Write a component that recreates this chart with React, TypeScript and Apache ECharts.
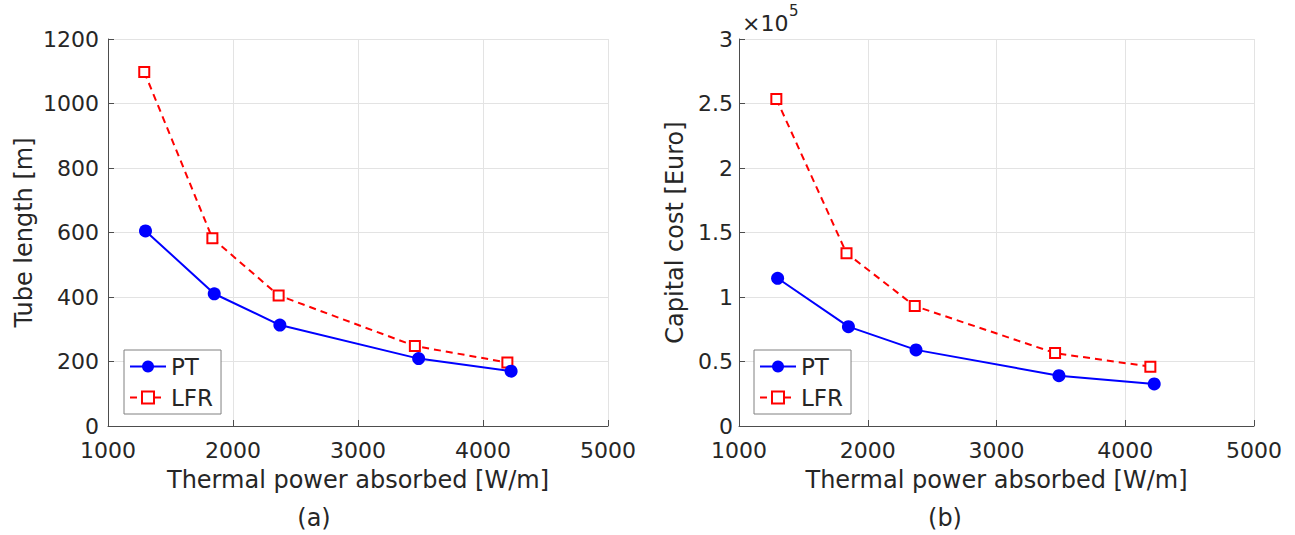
import React, { useEffect, useRef } from "react";
import * as echarts from "echarts";

const xTicks = [1000, 2000, 3000, 4000, 5000];
const ptX = [1300, 1850, 2375, 3485, 4225];
const lfrX = [1290, 1835, 2365, 3455, 4195];
const ptLength = [605, 410, 313, 209, 170];
const lfrLength = [1098, 582, 405, 248, 197];
const ptCost = [114500, 77000, 59000, 39000, 32600];
const lfrCost = [253500, 134000, 93000, 56500, 46000];

const FONT = "DejaVu Sans";
const TXT = "#262626";

function pairs(xs: number[], ys: number[]) {
  return xs.map((x, i) => [x, ys[i]]);
}

export default function App() {
  const ref = useRef<HTMLDivElement>(null);
  useEffect(() => {
    if (!ref.current) return;
    const chart = echarts.init(ref.current, undefined, { renderer: "svg" });
    const xAxisBase = (gridIndex: number) => ({
      type: "value" as const,
      gridIndex,
      min: xTicks[0],
      max: xTicks[xTicks.length - 1],
      interval: 1000,
      name: "Thermal power absorbed [W/m]",
      nameLocation: "middle" as const,
      nameGap: 42,
      nameTextStyle: { fontFamily: FONT, fontSize: 24, color: TXT },
      axisLine: { show: true, lineStyle: { color: "#4d4d4d", width: 1 } },
      axisTick: { show: true, inside: true, length: 6, lineStyle: { color: "#4d4d4d" } },
      axisLabel: { fontFamily: FONT, fontSize: 22, color: TXT, margin: 13, formatter: (v: number) => String(v) },
      splitLine: { show: true, lineStyle: { color: "#e3e3e3", width: 1 } },
    });
    const ptStyle = {
      type: "line" as const,
      name: "PT",
      symbol: "circle",
      symbolSize: 13,
      itemStyle: { color: "#0000ff" },
      lineStyle: { color: "#0000ff", width: 2 },
      z: 3,
    };
    const lfrStyle = {
      type: "line" as const,
      name: "LFR",
      symbol: "rect",
      symbolSize: 10,
      itemStyle: { color: "#ffffff", borderColor: "#ff0000", borderWidth: 2 },
      lineStyle: { color: "#ff0000", width: 2, type: [7, 5] as any },
      z: 2,
    };
    const legendBase = (left: number) => ({
      orient: "vertical" as const,
      left,
      top: 350,
      itemWidth: 36,
      itemHeight: 15,
      itemGap: 8,
      padding: [5, 8, 5, 5],
      backgroundColor: "#ffffff",
      borderColor: "#808080",
      borderWidth: 1,
      borderRadius: 0,
      textStyle: { fontFamily: FONT, fontSize: 23, color: TXT },
      data: ["PT", "LFR"],
      selectedMode: false,
    });
    chart.setOption({
      animation: false,
      backgroundColor: "#ffffff",
      grid: [
        { left: 108, top: 39, width: 500, height: 387 },
        { left: 739, top: 39, width: 515, height: 387 },
      ],
      xAxis: [xAxisBase(0), xAxisBase(1)],
      yAxis: [
        {
          type: "value",
          gridIndex: 0,
          min: 0,
          max: 1200,
          interval: 200,
          name: "Tube length [m]",
          nameLocation: "middle",
          nameGap: 72,
          nameTextStyle: { fontFamily: FONT, fontSize: 24, color: TXT },
          axisLine: { show: true, lineStyle: { color: "#4d4d4d", width: 1 } },
          axisTick: { show: true, inside: true, length: 6, lineStyle: { color: "#4d4d4d" } },
          axisLabel: { fontFamily: FONT, fontSize: 22, color: TXT, margin: 9, formatter: (v: number) => String(v) },
          splitLine: { show: true, lineStyle: { color: "#e3e3e3", width: 1 } },
        },
        {
          type: "value",
          gridIndex: 1,
          min: 0,
          max: 300000,
          interval: 50000,
          name: "Capital cost [Euro]",
          nameLocation: "middle",
          nameGap: 52,
          nameTextStyle: { fontFamily: FONT, fontSize: 24, color: TXT },
          axisLine: { show: true, lineStyle: { color: "#4d4d4d", width: 1 } },
          axisTick: { show: true, inside: true, length: 6, lineStyle: { color: "#4d4d4d" } },
          axisLabel: {
            fontFamily: FONT,
            fontSize: 22,
            color: TXT,
            margin: 6,
            formatter: (v: number) => String(v / 100000),
          },
          splitLine: { show: true, lineStyle: { color: "#e3e3e3", width: 1 } },
        },
      ],
      legend: [legendBase(124), legendBase(754)],
      series: [
        { ...ptStyle, xAxisIndex: 0, yAxisIndex: 0, data: pairs(ptX, ptLength) },
        { ...lfrStyle, xAxisIndex: 0, yAxisIndex: 0, data: pairs(lfrX, lfrLength) },
        { ...ptStyle, xAxisIndex: 1, yAxisIndex: 1, data: pairs(ptX, ptCost) },
        { ...lfrStyle, xAxisIndex: 1, yAxisIndex: 1, data: pairs(lfrX, lfrCost) },
      ],
      graphic: [
        {
          type: "text",
          x: 742,
          y: 23,
          style: { text: "×10", fontFamily: FONT, fontSize: 22, fill: TXT, textVerticalAlign: "middle" },
        },
        {
          type: "text",
          x: 789,
          y: 11,
          style: { text: "5", fontFamily: FONT, fontSize: 15, fill: TXT, textVerticalAlign: "middle" },
        },
        {
          type: "text",
          x: 314,
          y: 518,
          style: { text: "(a)", fontFamily: FONT, fontSize: 24, fill: TXT, textAlign: "center", textVerticalAlign: "middle" },
        },
        {
          type: "text",
          x: 945,
          y: 518,
          style: { text: "(b)", fontFamily: FONT, fontSize: 24, fill: TXT, textAlign: "center", textVerticalAlign: "middle" },
        },
      ],
    });
    return () => chart.dispose();
  }, []);
  return (
    <div
      ref={ref}
      style={{ position: "fixed", left: 0, top: 0, width: 1295, height: 535 }}
    />
  );
}
